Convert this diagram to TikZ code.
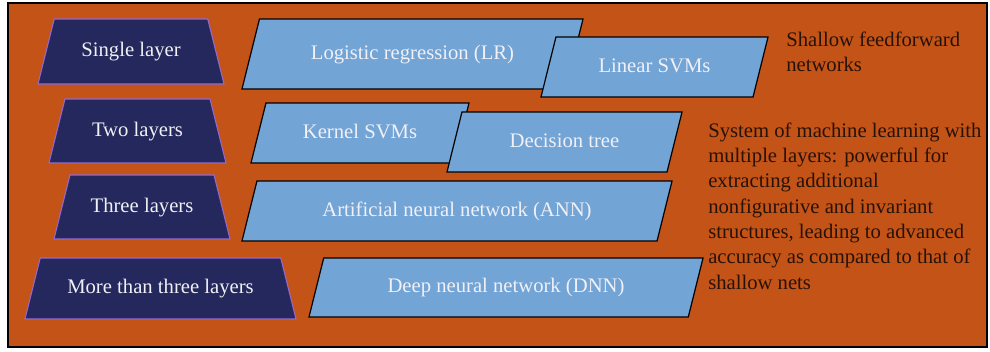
\documentclass[tikz,border=0pt]{standalone}
\usepackage{fontspec}
\setmainfont{Liberation Serif}
\usetikzlibrary{shapes}

\definecolor{bgorange}{RGB}{195,83,22}
\definecolor{layernavy}{RGB}{36,40,92}
\definecolor{layeredge}{RGB}{150,105,210}
\definecolor{methodblue}{RGB}{114,164,214}
\definecolor{notetext}{RGB}{40,18,8}
\definecolor{boxtext}{RGB}{240,240,246}

\begin{document}
\begin{tikzpicture}[x=0.75pt, y=-0.75pt]
    \tikzstyle{layer} = [trapezium, trapezium left angle=76, trapezium right angle=76, trapezium stretches body=true, draw=layeredge, fill=layernavy, text=boxtext, line width=0.8pt, inner xsep=0pt, text height=11pt, text depth=3.5pt, font=\fontsize{15.5}{19}\selectfont]
    \tikzstyle{method} = [trapezium, trapezium left angle=76, trapezium right angle=104, trapezium stretches body=true, draw=black, fill=methodblue, text=boxtext, line width=0.9pt, inner xsep=0pt, text height=11pt, text depth=3.5pt, font=\fontsize{15.5}{19}\selectfont]
    \tikzstyle{note} = [anchor=north west, align=left, inner sep=0pt, text=notetext, font=\fontsize{15.5}{19}\selectfont]

    \useasboundingbox (0,0) rectangle (990,351);
    \draw[fill=bgorange, line width=1.6pt] (8,3) rectangle (987,347);

    % Layers
    \node[layer, minimum width=186*0.75pt, inner ysep=17.125pt] (single) at (131,51.5) {Single layer};
    \node[layer, minimum width=177*0.75pt, inner ysep=16.75pt] (two) at (137.5,131) {Two layers};
    \node[layer, minimum width=176*0.75pt, inner ysep=16.75pt] (three) at (142,207) {Three layers};
    \node[layer, minimum width=271*0.75pt, inner ysep=15.625pt] (more) at (160.5,288.5) {More than three layers};

    % Methods
    \node[method, minimum width=341*0.75pt, inner ysep=19pt] (lr) at (412.5,54) {Logistic regression (LR)};
    \node[method, minimum width=227*0.75pt, inner ysep=15.25pt] (linsvm) at (654.5,67) {Linear SVMs};
    \node[method, minimum width=218*0.75pt, inner ysep=15.25pt] (kernsvm) at (360,133) {Kernel SVMs};
    \node[method, minimum width=235*0.75pt, inner ysep=15.25pt] (dtree) at (564.5,142) {Decision tree};
    \node[method, minimum width=430*0.75pt, inner ysep=15.25pt] (ann) at (457,211) {Artificial neural network (ANN)};
    \node[method, minimum width=394*0.75pt, inner ysep=14.875pt] (dnn) at (506,287.5) {Deep neural network (DNN)};

    % Notes
    \node[note] (shallow) at (786,31.5) {Shallow feedforward\\networks};
    \node[note] (deep) at (708,122.5) {System of machine learning with\\multiple layers: powerful for\\extracting additional\\nonfigurative and invariant\\structures, leading to advanced\\accuracy as compared to that of\\shallow nets};

\end{tikzpicture}
\end{document}
